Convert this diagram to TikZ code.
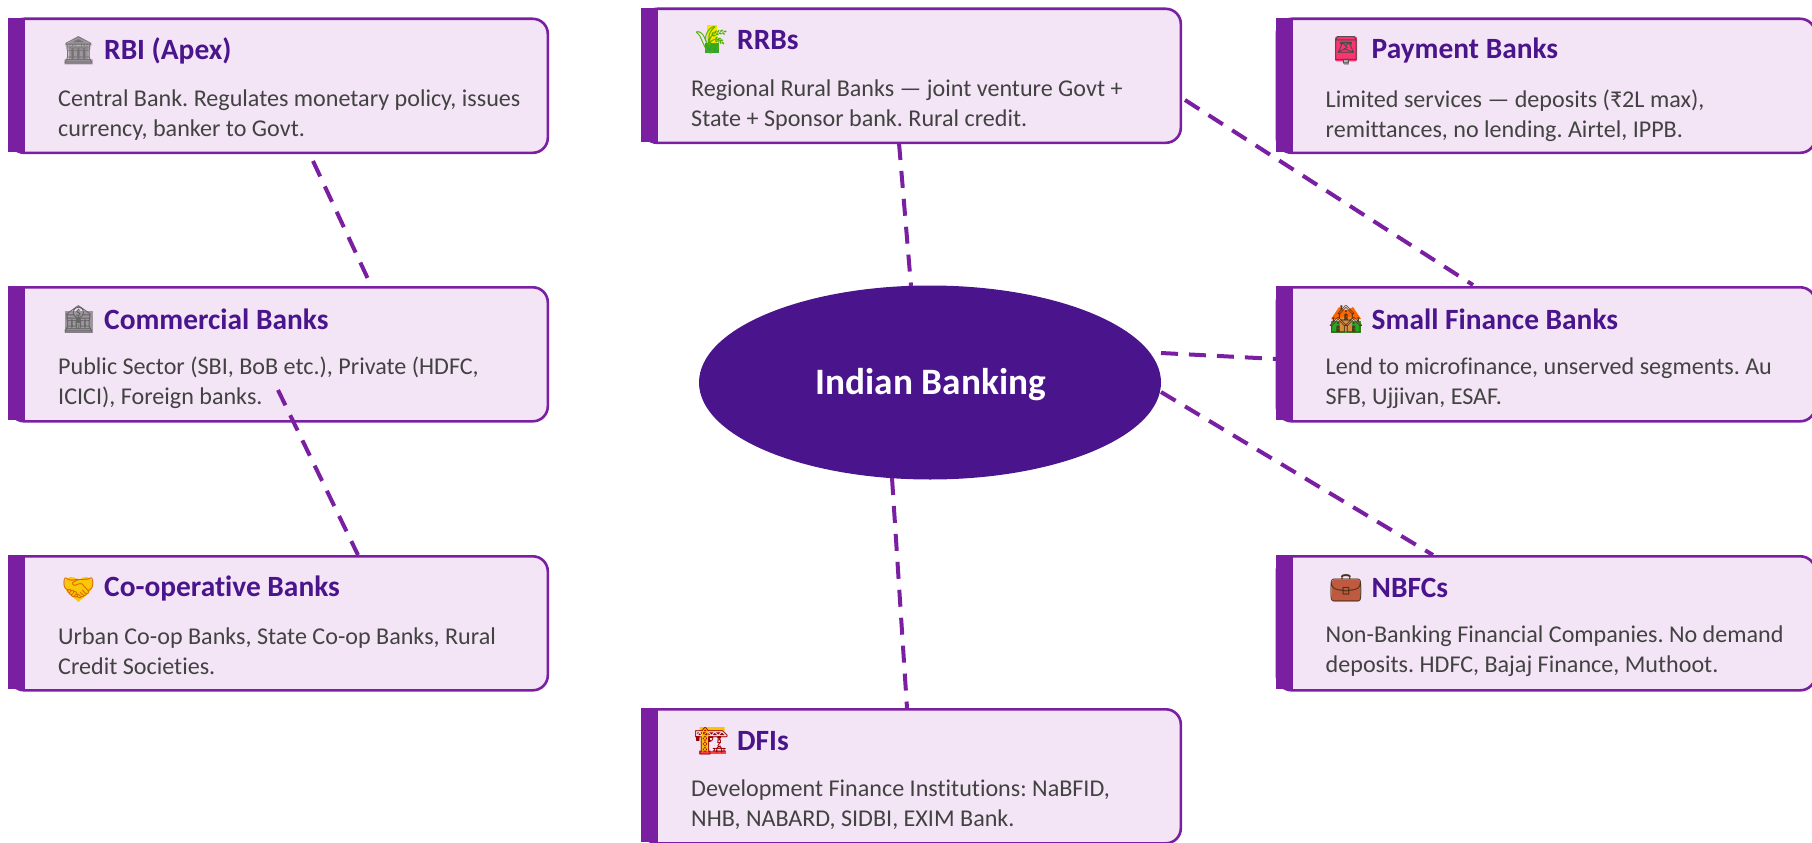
\documentclass[tikz,border=0pt]{standalone}
\usepackage{fontspec}
\setmainfont[Ligatures=NoCommon]{Carlito}
\newfontfamily\emo{Noto Emoji}
\usetikzlibrary{shapes.geometric,calc}
\definecolor{cardfill}{HTML}{F3E5F5}
\definecolor{cardedge}{HTML}{7B1FA2}
\definecolor{deep}{HTML}{4A148C}
\definecolor{bodytxt}{HTML}{424242}
\tikzset{
  card/.style={draw=cardedge,fill=cardfill,line width=2.6pt,rounded corners=15pt,minimum width=538.5pt,minimum height=134pt,inner sep=0pt,anchor=north west},
  cardbar/.style={fill=cardedge,minimum width=17pt,minimum height=134pt,inner sep=0pt,anchor=north west},
  cardtitle/.style={text=deep,font=\fontsize{29.4}{33}\selectfont\bfseries,anchor=west,inner sep=0pt},
  cardbody/.style={text=bodytxt,font=\fontsize{24.1}{30}\selectfont\frenchspacing,anchor=west,align=left,inner sep=0pt},
  cardicon/.style={font=\fontsize{27}{30}\selectfont\emo,anchor=center,inner sep=0pt},
  hub/.style={ellipse,fill=deep,text=white,font=\fontsize{37.3}{42}\selectfont\bfseries,minimum width=462pt,minimum height=194pt,inner sep=0pt},
  link/.style={draw=cardedge,line width=4pt,dash pattern=on 17pt off 11pt}
}
% name, x, y, icon colour, icon, title, body, icon backing, body offset
\newcommand{\cardbox}[9]{%
  \node[card] (#1) at (#2,#3) {};
  \node[cardbar] (#1-bar) at (#1.north west) {};
  \coordinate (#1-ic) at ($(#1.north west)+(70.5,33)$);
  \begin{scope}[shift={(#1-ic)}]#8\end{scope}
  \node[cardicon,text=#4] (#1-icon) at (#1-ic) {#5};
  \node[cardtitle] (#1-title) at ($(#1.north west)+(96,33)$) {#6};
  \node[cardbody] (#1-body) at ($(#1.north west)+(50,#9)$) {#7};
}
\begin{document}
\begin{tikzpicture}[x=1pt,y=-1pt]
\useasboundingbox (0,0) rectangle (1812,843);
\cardbox{rbi}{8}{17.5}{black!55}{🏛}{RBI (Apex)}{Central Bank. Regulates monetary policy, issues\\currency, banker to Govt.}{\fill[black!35!cardfill] (-14,-5)--(0,-14)--(14,-5)--cycle (-14,9) rectangle (14,14) (-10,-4) rectangle (10,9);}{98}
\cardbox{comm}{8}{286}{black!60}{🏦}{Commercial Banks}{Public Sector (SBI, BoB etc.), Private (HDFC,\\ICICI), Foreign banks.}{\fill[black!35!cardfill] (-14,-8) rectangle (14,14);}{97}
\cardbox{coop}{8}{555}{orange!85!black}{🤝}{Co-operative Banks}{Urban Co-op Banks, State Co-op Banks, Rural\\Credit Societies.}{\fill[yellow!60!orange] (0,14) .. controls (-6,8) and (-15,4) .. (-14,-5) .. controls (-13,-13) and (-4,-12) .. (0,-8) .. controls (4,-12) and (13,-13) .. (14,-5) .. controls (15,4) and (6,8) .. (0,14) -- cycle;}{96}
\cardbox{rrb}{641}{7.5}{green!40!olive}{🌾}{RRBs}{Regional Rural Banks — joint venture Govt +\\State + Sponsor bank. Rural credit.}{\fill[yellow!85!orange] (-5,-15) rectangle (5,3); \fill[green!55!black!80] (-7,3) rectangle (7,13);}{97.5}
\cardbox{dfi}{641}{708}{red!60!black}{🏗}{DFIs}{Development Finance Institutions: NaBFID,\\NHB, NABARD, SIDBI, EXIM Bank.}{\fill[yellow!55!orange] (-10,-13) rectangle (-3,11) (-12,-14) rectangle (13,-10); \fill[red!75] (-13,10) rectangle (14,13);}{97}
\cardbox{pay}{1275.5}{17.5}{black!70}{📮}{Payment Banks}{Limited services — deposits (₹2L max),\\remittances, no lending. Airtel, IPPB.}{\fill[red!70!magenta!80,rounded corners=2pt] (-11,-14) rectangle (11,11); \fill[black!25!cardfill] (-2,10) rectangle (3,15);}{98}
\cardbox{sfb}{1275.5}{286}{black!55!brown}{🏘}{Small Finance Banks}{Lend to microfinance, unserved segments. Au\\SFB, Ujjivan, ESAF.}{\fill[green!60!black!85] (-15,2) rectangle (15,14); \fill[orange!80!red] (-15,0)--(-7,-12)--(0,-8)--(7,-12)--(15,0)--cycle; \fill[brown!70!orange!90] (-6,-2) rectangle (6,12);}{97}
\cardbox{nbfc}{1275.5}{555}{black!60!brown}{💼}{NBFCs}{Non-Banking Financial Companies. No demand\\deposits. HDFC, Bajaj Finance, Muthoot.}{\fill[brown!70!purple,rounded corners=2pt] (-14,-8) rectangle (14,13);}{96}
\node[hub] (hub) at (930,382.5) {\hspace{1.5pt}\raisebox{-12pt}[0pt][0pt]{Indian Banking}};
\coordinate (a1) at (313,161);
\coordinate (a2) at (368,279);
\coordinate (b1) at (278,390);
\coordinate (b2) at (358,555);
\coordinate (c1) at (899,143);
\coordinate (c2) at (911,286);
\coordinate (d1) at (892,478);
\coordinate (d2) at (907,708);
\coordinate (e1) at (1185,100);
\coordinate (e2) at (1473,285);
\coordinate (f1) at (1161,353);
\coordinate (f2) at (1277,359);
\coordinate (g1) at (1161,392);
\coordinate (g2) at (1433,555);
\draw[link] (a1) -- (a2);
\draw[link] (b1) -- (b2);
\draw[link] (c1) -- (c2);
\draw[link] (d1) -- (d2);
\draw[link] (e1) -- (e2);
\draw[link] (f1) -- (f2);
\draw[link] (g1) -- (g2);
\end{tikzpicture}
\end{document}
